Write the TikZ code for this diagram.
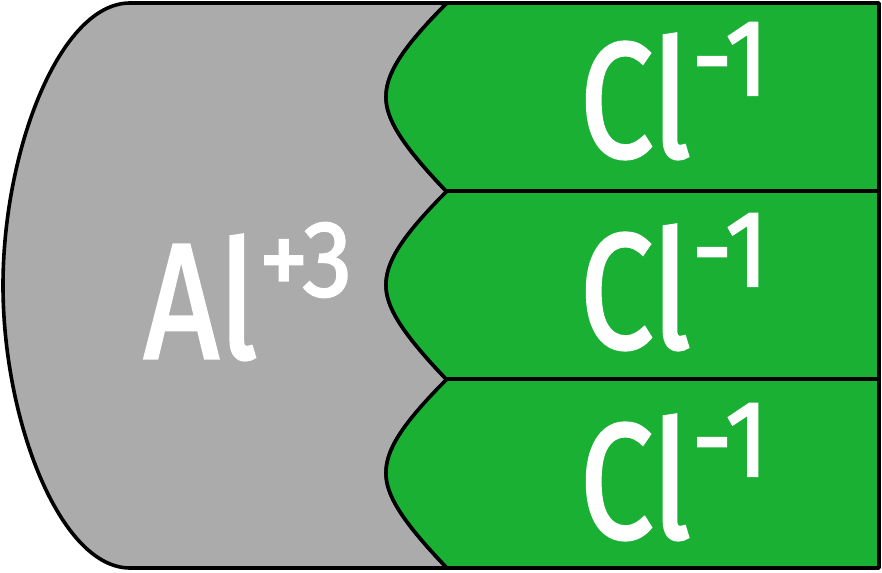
\documentclass[tikz,border=0pt]{standalone}
\usepackage{fontspec}
\newfontfamily\ionfont[FakeBold=2]{Fira Sans}
\definecolor{algray}{HTML}{ABABAB}
\definecolor{clgreen}{HTML}{19B034}
\newcommand{\chg}[1]{\hspace{1pt}\raisebox{31pt}{\scalebox{1.15}[1]{\fontsize{54}{56}\selectfont #1}}}
\begin{document}
\begin{tikzpicture}[x=0.5pt, y=-0.5pt]
  \useasboundingbox (0,0) rectangle (882,572);
  \tikzstyle{border}=[draw=black, line width=1.8pt, line join=round]
  \tikzstyle{ion}=[text=white, inner sep=0pt, anchor=base, xscale=0.8, transform shape,
                   font={\ionfont\fontsize{82}{90}\selectfont}]

  % Al-Teil mit Einbuchtungen
  \filldraw[border, fill=algray] (130,3) -- (447,3)
    \foreach \y in {3,191,379} {
      .. controls (400,\y+47) and (386,\y+72) .. (386,\y+94)
      .. controls (386,\y+115) and (400,\y+140) .. (447,\y+189)
    }
    -- (130,568) .. controls (60,568) and (3,420) .. (3,285.5)
    .. controls (3,150) and (60,3) .. cycle;

  % Cl-Teile
  \foreach \y in {3,191,379} {
    \filldraw[border, fill=clgreen] (447,\y) -- (879,\y) -- (879,\y+189) -- (447,\y+189)
      .. controls (400,\y+140) and (386,\y+115) .. (386,\y+94)
      .. controls (386,\y+72) and (400,\y+47) .. cycle;
  }

  \node[ion] (al)  at (248,358) {Al\chg{+3}};
  \node[ion] (cl1) at (674,157) {Cl\chg{-1}};
  \node[ion] (cl2) at (674,348) {Cl\chg{-1}};
  \node[ion] (cl3) at (674,538) {Cl\chg{-1}};
\end{tikzpicture}
\end{document}
